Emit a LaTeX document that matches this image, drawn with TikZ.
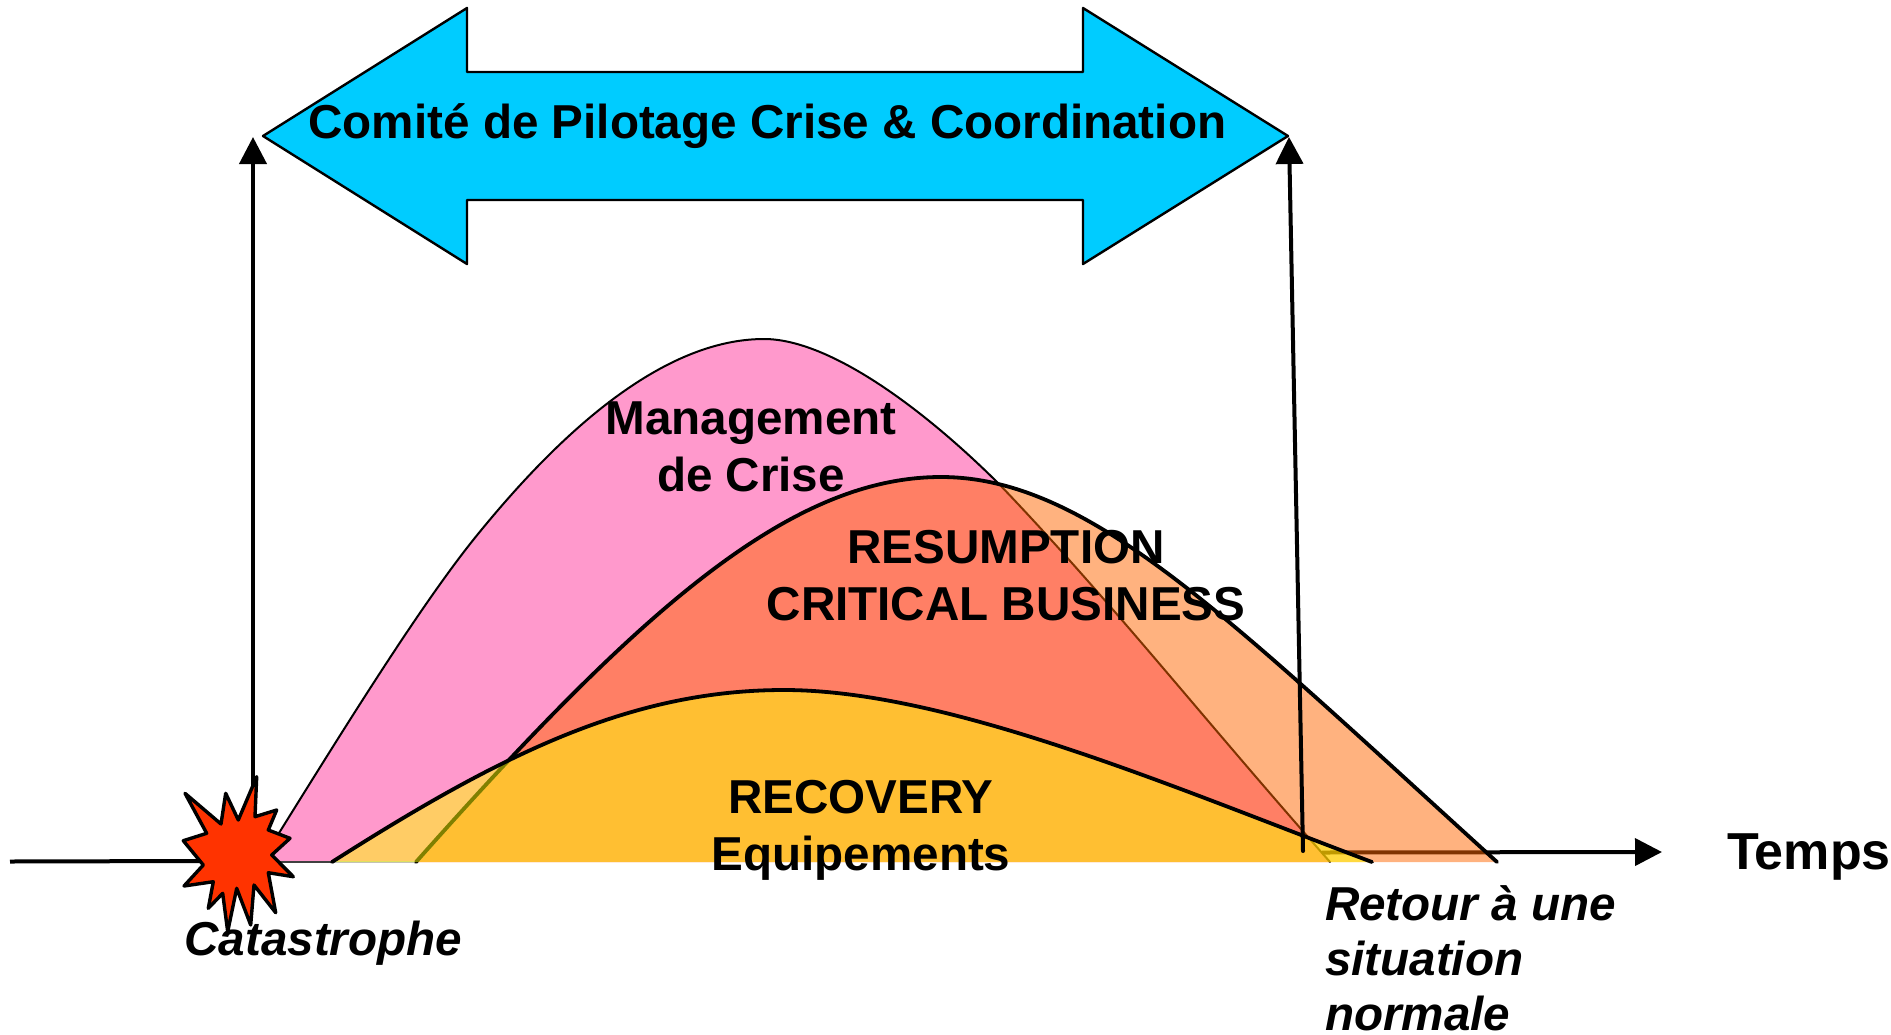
\documentclass[tikz,border=0pt]{standalone}
\usepackage{fontspec}
\setmainfont{Liberation Sans}
\usetikzlibrary{arrows.meta}
\tikzset{
  x=1pt,y=-1pt,
  lab/.style={inner sep=0pt,outer sep=0pt,font=\fontsize{47.6}{56.5}\selectfont\bfseries,text=black},
  ilab/.style={inner sep=0pt,outer sep=0pt,font=\fontsize{47.6}{55}\selectfont\bfseries\itshape,text=black},
  biglab/.style={inner sep=0pt,outer sep=0pt,font=\fontsize{52}{60}\selectfont\bfseries,text=black},
  axisline/.style={line width=4pt,draw=black},
  tip/.style={-{Triangle[length=27pt,width=27pt]}},
}
\definecolor{pinkc}{HTML}{FF99CC}
\definecolor{orangec}{HTML}{FF6600}
\definecolor{yellowc}{HTML}{FFFF00}
\definecolor{bluec}{HTML}{00CCFF}
\definecolor{starc}{HTML}{FF3300}
\begin{document}
\begin{tikzpicture}
\useasboundingbox (0,0) rectangle (1891,1034);
\clip (0,0) rectangle (1891,1034);
\coordinate (axL) at (10,861.5);
\coordinate (axM) at (200,861);
\coordinate (axR0) at (1322,852.5);
\coordinate (axR) at (1662,852);
\coordinate (blueL) at (253,137);
\coordinate (blueR) at (1289,137);
\coordinate (starTop) at (253,830);
\coordinate (retBase) at (1303,851);
% pink
\fill[pinkc] (261,862) .. controls (340,735) and (420,605) .. (478,534)
  .. controls (540,458) and (650,339) .. (764,339)
  .. controls (830,339) and (925,410) .. (1000,485)
  .. controls (1110,600) and (1200,715) .. (1330,862) -- cycle;
\draw[line width=2pt,black,line cap=round] (261,862) .. controls (340,735) and (420,605) .. (478,534)
  .. controls (540,458) and (650,339) .. (764,339)
  .. controls (830,339) and (925,410) .. (1000,485)
  .. controls (1110,600) and (1200,715) .. (1330,862);
\draw[line width=1.2pt,black!75] (261,862) -- (332,862);
\draw[line width=1.2pt,black!25] (332,862) -- (416,862);
% axis
\draw[axisline] (axL) -- (axM);
\draw[axisline,tip] (axR0) -- (axR);
% orange
\path[fill=orangec,fill opacity=.5] (416,862) .. controls (640,610) and (790,477) .. (941,477)
  .. controls (1090,477) and (1230,620) .. (1497,862) -- cycle;
\draw[line width=3.8pt,line cap=round] (416,862) .. controls (640,610) and (790,477) .. (941,477)
  .. controls (1090,477) and (1230,620) .. (1497,862);
% yellow
\path[fill=yellowc,fill opacity=.5] (332,862) .. controls (500,755) and (630,690) .. (784,690)
  .. controls (950,690) and (1180,790) .. (1372,862) -- cycle;
\draw[line width=3.8pt,line cap=round] (332,862) .. controls (500,755) and (630,690) .. (784,690)
  .. controls (950,690) and (1180,790) .. (1372,862);
% blue double arrow
\draw[fill=bluec,line width=2.4pt,line join=round] (263,136) -- (467,8) -- (467,72) -- (1083,72) -- (1083,8)
  -- (1288,136) -- (1083,264) -- (1083,200) -- (467,200) -- (467,264) -- cycle;
% vertical arrows
\draw[axisline,tip] (starTop) -- (blueL);
\draw[axisline,tip,line cap=round] (retBase) -- (blueR);
% star
\draw[fill=starc,line width=3.4pt,line join=round] (256.7,776.7) -- (255,816.7) -- (276.7,810) -- (268.3,830) -- (290,838.3)
 -- (271.7,855) -- (293.3,876.7) -- (268.3,872.7) -- (275.7,912.7) -- (254,885) -- (250.7,925) -- (236.7,888.3)
 -- (227.7,931.7) -- (222.7,893.3) -- (208.3,908.3) -- (213.3,881.7) -- (184,886) -- (203.3,865) -- (183.3,840.7)
 -- (206.7,833.3) -- (185,793.3) -- (221,824) -- (225.7,793.3) -- (238.3,820) -- cycle;
% labels
\node[lab,anchor=base west] (title) at (308.5,138) {Comité de Pilotage Crise \& Coordination};
\node[lab,align=center,anchor=base] (mgmt) at (751,491) {Management\\de Crise};
\node[lab,align=center,anchor=base] (resume) at (1006,620) {RESUMPTION\\CRITICAL BUSINESS};
\node[lab,align=center,anchor=base] (recov) at (861,870) {RECOVERY\\Equipements};
\node[ilab,anchor=base west] (cata) at (184.5,955) {Catastrophe};
\node[ilab,align=left,anchor=base west] (retour) at (1325,1030) {Retour à une\\situation\\normale};
\node[biglab,anchor=base west] (temps) at (1727,869) {Temps};
\end{tikzpicture}
\end{document}
